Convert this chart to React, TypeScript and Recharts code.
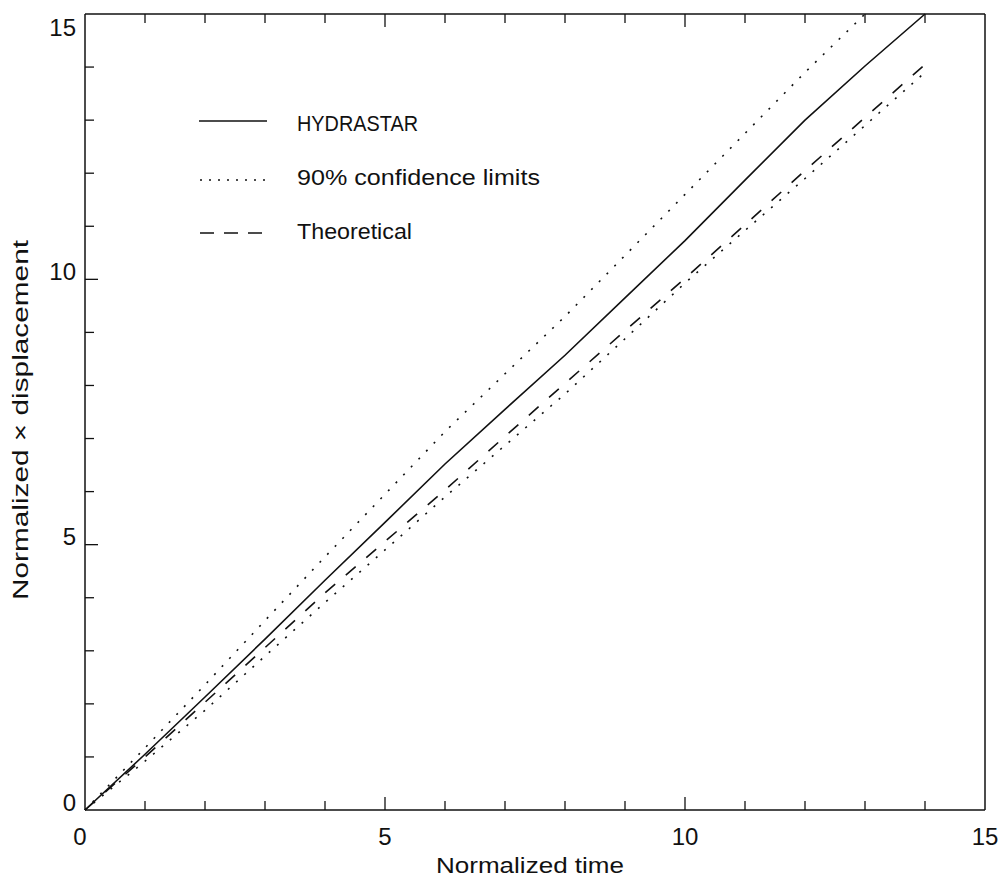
import React from "react";
import { LineChart, Line, XAxis, YAxis, Label } from "recharts";

const times = [0, 1, 2, 3, 4, 5, 6, 7, 8, 9, 10, 11, 12, 13, 14];
const hydrastar = [0, 1.05, 2.13, 3.22, 4.33, 5.42, 6.52, 7.55, 8.57, 9.65, 10.73, 11.87, 13.0, 14.02, 15.0];
const upperLimit = [0, 1.17, 2.36, 3.57, 4.77, 5.95, 7.13, 8.22, 9.3, 10.45, 11.6, 12.75, 13.9, 15.0, null];
const lowerLimit = [0, 0.92, 1.88, 2.9, 3.91, 4.9, 5.9, 6.87, 7.84, 8.88, 9.93, 10.92, 11.9, 12.9, 13.9];
const theoretical = [0, 1.0, 2.03, 3.06, 4.09, 5.06, 6.03, 7.04, 8.04, 9.03, 10.02, 11.03, 12.05, 13.05, 14.05];
const axisTicks = [0, 1, 2, 3, 4, 5, 6, 7, 8, 9, 10, 11, 12, 13, 14, 15];
const legendItems = ["HYDRASTAR", "90% confidence limits", "Theoretical"];

const data = times.map((t, i) => ({
  t,
  hydrastar: hydrastar[i],
  upper: upperLimit[i],
  lower: lowerLimit[i],
  theoretical: theoretical[i],
}));

const INK = "#111";
const FONT = "'Liberation Sans', Arial, sans-serif";
const W = 999;
const H = 881;

const tickLen = (v: number) => (v % 5 === 0 ? 13 : 9);

const BottomTick = (props: any) => {
  const { x, y, payload } = props;
  const v = payload.value;
  const major = v % 5 === 0;
  return (
    <g>
      {v !== 0 && v !== 15 && (
        <line x1={x} y1={y} x2={x} y2={y - tickLen(v)} stroke={INK} strokeWidth={1.3} />
      )}
      {major && (
        <text x={v === 0 ? x - 5 : x} y={y + 26} textAnchor="middle" dominantBaseline="central" fontSize={24} fill={INK} fontFamily={FONT}>
          {v}
        </text>
      )}
    </g>
  );
};

const TopTick = (props: any) => {
  const { x, y, payload } = props;
  const v = payload.value;
  if (v === 0 || v === 15) return <g />;
  return <line x1={x} y1={y} x2={x} y2={y + tickLen(v)} stroke={INK} strokeWidth={1.3} />;
};

const LeftTick = (props: any) => {
  const { x, y, payload } = props;
  const v = payload.value;
  const major = v % 5 === 0;
  return (
    <g>
      {v !== 0 && v !== 15 && (
        <line x1={x} y1={y} x2={x + tickLen(v)} y2={y} stroke={INK} strokeWidth={1.3} />
      )}
      {major && (
        <text x={x - 9} y={v === 15 ? y + 13 : y - 8} textAnchor="end" dominantBaseline="central" fontSize={24} fill={INK} fontFamily={FONT}>
          {v}
        </text>
      )}
    </g>
  );
};

const RightTick = (props: any) => {
  const { x, y, payload } = props;
  const v = payload.value;
  if (v === 0 || v === 15) return <g />;
  return <line x1={x} y1={y} x2={x - tickLen(v)} y2={y} stroke={INK} strokeWidth={1.3} />;
};

const XTitle = (props: any) => {
  const vb = props.viewBox || {};
  return (
    <text x={vb.x + vb.width / 2 - 5} y={vb.y + 55} textAnchor="middle" dominantBaseline="central" fontSize={22} fill={INK} fontFamily={FONT} textLength={188} lengthAdjust="spacingAndGlyphs">
      Normalized time
    </text>
  );
};

const YTitle = (props: any) => {
  const vb = props.viewBox || {};
  const cx = 20;
  const cy = vb.y + vb.height / 2 + 8;
  return (
    <text x={cx} y={cy} transform={`rotate(-90 ${cx} ${cy})`} textAnchor="middle" dominantBaseline="central" fontSize={22} fill={INK} fontFamily={FONT} textLength={360} lengthAdjust="spacingAndGlyphs">
      Normalized × displacement
    </text>
  );
};

const LegendOverlay = () => {
  const rows = [
    { ly: 121, ty: 123, dash: undefined as string | undefined, x1: 199, len: 121 },
    { ly: 180, ty: 177, dash: "2 7", x1: 200, len: 243 },
    { ly: 233, ty: 231, dash: "14 10", x1: 200, len: 115 },
  ];
  return (
    <svg width={W} height={H} style={{ position: "absolute", left: 0, top: 0, pointerEvents: "none" }}>
      {rows.map((r, i) => (
        <g key={i}>
          <line x1={r.x1} y1={r.ly} x2={267} y2={r.ly} stroke={INK} strokeWidth={1.5} strokeDasharray={r.dash} />
          <text x={297} y={r.ty} dominantBaseline="central" fontSize={22} fill={INK} fontFamily={FONT} textLength={r.len} lengthAdjust="spacingAndGlyphs">
            {legendItems[i]}
          </text>
        </g>
      ))}
    </svg>
  );
};

export default function App() {
  return (
    <div style={{ position: "absolute", left: 0, top: 0, width: W, height: H, fontFamily: FONT }}>
      <LineChart width={W} height={H} data={data} margin={{ top: 8, right: 8, bottom: 11, left: 0 }}>
        <XAxis
          xAxisId="b"
          dataKey="t"
          type="number"
          domain={[0, 15]}
          ticks={axisTicks}
          interval={0}
          height={60}
          tickSize={0}
          tickMargin={0}
          tickLine={false}
          axisLine={{ stroke: INK, strokeWidth: 1.5 }}
          tick={<BottomTick />}
        >
          <Label content={<XTitle />} />
        </XAxis>
        <XAxis
          xAxisId="t"
          orientation="top"
          dataKey="t"
          type="number"
          domain={[0, 15]}
          ticks={axisTicks}
          interval={0}
          height={6}
          tickSize={0}
          tickMargin={0}
          tickLine={false}
          axisLine={{ stroke: INK, strokeWidth: 1.5 }}
          tick={<TopTick />}
        />
        <YAxis
          yAxisId="l"
          type="number"
          domain={[0, 15]}
          ticks={axisTicks}
          interval={0}
          width={85}
          tickSize={0}
          tickMargin={0}
          tickLine={false}
          axisLine={{ stroke: INK, strokeWidth: 1.5 }}
          tick={<LeftTick />}
        >
          <Label content={<YTitle />} />
        </YAxis>
        <YAxis
          yAxisId="r"
          orientation="right"
          type="number"
          domain={[0, 15]}
          ticks={axisTicks}
          interval={0}
          width={6}
          tickSize={0}
          tickMargin={0}
          tickLine={false}
          axisLine={{ stroke: INK, strokeWidth: 1.5 }}
          tick={<RightTick />}
        />
        <Line xAxisId="b" yAxisId="l" type="linear" dataKey="upper" stroke={INK} strokeWidth={1.6} strokeDasharray="2 9" dot={false} isAnimationActive={false} />
        <Line xAxisId="b" yAxisId="l" type="linear" dataKey="lower" stroke={INK} strokeWidth={1.6} strokeDasharray="2 9" dot={false} isAnimationActive={false} />
        <Line xAxisId="b" yAxisId="l" type="linear" dataKey="theoretical" stroke={INK} strokeWidth={1.6} strokeDasharray="13 14" dot={false} isAnimationActive={false} />
        <Line xAxisId="b" yAxisId="l" type="linear" dataKey="hydrastar" stroke={INK} strokeWidth={1.6} dot={false} isAnimationActive={false} />
      </LineChart>
      <LegendOverlay />
    </div>
  );
}
